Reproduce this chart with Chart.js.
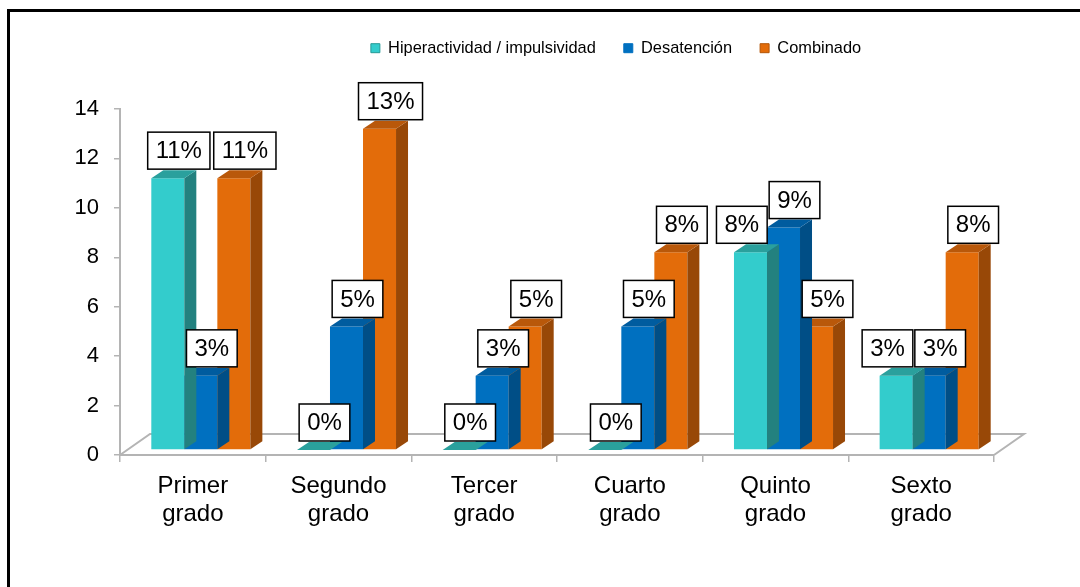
<!DOCTYPE html>
<html>
<head>
<meta charset="utf-8">
<style>
  html, body { margin: 0; padding: 0; background: #fff; overflow: hidden; }
  #wrap { position: relative; width: 1080px; height: 587px; overflow: hidden; background: #fff; }
  #frame { position: absolute; left: 7px; top: 9px; width: 2000px; height: 2000px;
           border-left: 3px solid #000; border-top: 3px solid #000; }
  #c { position: absolute; left: 0; top: 0; z-index: 1; }
</style>
<script src="https://cdn.jsdelivr.net/npm/chart.js@4"></script>
</head>
<body>
<div id="wrap">
  <div id="frame"></div>
  <canvas id="c" width="1080" height="587"></canvas>
</div>
<script>
// ---------------- data ----------------
const categories = [["Primer", "grado"], ["Segundo", "grado"], ["Tercer", "grado"],
                    ["Cuarto", "grado"], ["Quinto", "grado"], ["Sexto", "grado"]];
const seriesNames = ["Hiperactividad / impulsividad", "Desatención", "Combinado"];
const hiperactividad = [11, 0, 0, 0, 8, 3];
const desatencion    = [3, 5, 3, 5, 9, 3];
const combinado      = [11, 13, 5, 8, 5, 8];
const hiperactividadLabels = ["11%", "0%", "0%", "0%", "8%", "3%"];
const desatencionLabels    = ["3%", "5%", "3%", "5%", "9%", "3%"];
const combinadoLabels      = ["11%", "13%", "5%", "8%", "5%", "8%"];
const yTicks = [0, 2, 4, 6, 8, 10, 12, 14];

// ---------------- styles ----------------
const FONT = "'Liberation Sans', Arial, Helvetica, sans-serif";
const palette = [
  { front: '#33CCCC', side: '#23817f', top: '#2aa09d', edge: '#259996' },
  { front: '#0070C0', side: '#004e86', top: '#005c9f', edge: '#0070C0' },
  { front: '#E36C0A', side: '#984807', top: '#b9580a', edge: '#b35608' }
];
const AXIS_COLOR = '#b4b4b4';
const DX = 8, DY = -5;      // bar front plane offset from axis plane
const BDX = 12, BDY = -8;   // bar depth
const FDX = 30, FDY = -21;  // floor depth
const LEGEND_SHIFT = 119;

const seriesData = [hiperactividad, desatencion, combinado];
const seriesLabels = [hiperactividadLabels, desatencionLabels, combinadoLabels];

const threeD = {
  id: 'threeD',
  afterLayout(chart) {
    const L = chart.legend;
    if (L) { L.left += LEGEND_SHIFT; L.right += LEGEND_SHIFT; }
  },
  beforeDatasetsDraw(chart) {
    const ctx = chart.ctx, a = chart.chartArea;
    ctx.save();
    ctx.strokeStyle = AXIS_COLOR;
    ctx.lineWidth = 2;
    ctx.beginPath();
    ctx.moveTo(a.left, a.bottom);
    ctx.lineTo(a.left + FDX, a.bottom + FDY);
    ctx.lineTo(a.right + FDX, a.bottom + FDY);
    ctx.lineTo(a.right, a.bottom);
    ctx.stroke();
    ctx.restore();
  },
  beforeDatasetDraw(chart) {
    chart.ctx.save();
    chart.ctx.translate(DX, DY);
  },
  afterDatasetDraw(chart, args) {
    const ctx = chart.ctx;
    const pal = palette[args.index];
    args.meta.data.forEach(el => {
      const L = el.x - el.width / 2, R = el.x + el.width / 2, T = el.y, B = el.base;
      ctx.fillStyle = pal.side;
      ctx.beginPath();
      ctx.moveTo(R, T); ctx.lineTo(R + BDX, T + BDY);
      ctx.lineTo(R + BDX, B + BDY); ctx.lineTo(R, B);
      ctx.closePath(); ctx.fill();
      ctx.fillStyle = pal.top;
      ctx.beginPath();
      ctx.moveTo(L, T); ctx.lineTo(L + BDX, T + BDY);
      ctx.lineTo(R + BDX, T + BDY); ctx.lineTo(R, T);
      ctx.closePath(); ctx.fill();
    });
    ctx.restore();
  },
  afterDatasetsDraw(chart) {
    const ctx = chart.ctx;
    ctx.save();
    ctx.font = '24px ' + FONT;
    const n = chart.data.labels.length;
    for (let c = 0; c < n; c++) {
      const boxes = [];
      chart.data.datasets.forEach((ds, i) => {
        const el = chart.getDatasetMeta(i).data[c];
        const text = ds.pctLabels[c];
        const w = ctx.measureText(text).width + 16, h = 37;
        const cx = el.x + DX + 11, bottom = el.y + DY - 9;
        boxes.push({ x: cx - w / 2, y: bottom - h, w, h, text });
      });
      for (let i = boxes.length - 2; i >= 0; i--) {
        for (let j = i + 1; j < boxes.length; j++) {
          const a = boxes[i], b = boxes[j];
          const vo = a.y < b.y + b.h && b.y < a.y + a.h;
          const ho = a.x + a.w - b.x;
          if (vo && ho > 0 && a.x < b.x + b.w) a.x -= ho + 2;
        }
      }
      boxes.forEach(b => {
        ctx.fillStyle = '#fff';
        ctx.fillRect(b.x, b.y, b.w, b.h);
        ctx.strokeStyle = '#000';
        ctx.lineWidth = 1.5;
        ctx.strokeRect(b.x, b.y, b.w, b.h);
        ctx.fillStyle = '#000';
        ctx.textAlign = 'center';
        ctx.textBaseline = 'middle';
        ctx.fillText(b.text, b.x + b.w / 2, b.y + b.h / 2 + 1);
      });
    }
    ctx.restore();
  }
};

new Chart(document.getElementById('c'), {
  type: 'bar',
  data: {
    labels: categories,
    datasets: seriesData.map((d, i) => ({
      label: seriesNames[i],
      data: d,
      pctLabels: seriesLabels[i],
      backgroundColor: palette[i].front,
      borderWidth: 0,
      clip: false,
      categoryPercentage: 0.68,
      barPercentage: 1.0
    }))
  },
  options: {
    responsive: false,
    animation: false,
    devicePixelRatio: 1,
    events: [],
    layout: { padding: { top: 12, left: 0, right: 86, bottom: 0 } },
    plugins: {
      tooltip: { enabled: false },
      legend: {
        display: true,
        position: 'top',
        align: 'center',
        labels: {
          boxWidth: 9, boxHeight: 9, padding: 28, color: '#000',
          font: { family: FONT, size: 16.4 },
          generateLabels(chart) {
            const items = Chart.defaults.plugins.legend.labels.generateLabels(chart);
            items.forEach((it, i) => { it.lineWidth = 1; it.strokeStyle = palette[i].edge; });
            return items;
          }
        }
      },
      title: {
        display: true, text: ' ', weight: 500, position: 'top',
        font: { size: 12 }, padding: { top: 0, bottom: 28.2 }
      }
    },
    scales: {
      x: {
        grid: { display: true, drawOnChartArea: false, drawTicks: true, tickLength: 7, color: AXIS_COLOR, lineWidth: 1.5, offset: true },
        border: { display: true, color: AXIS_COLOR, width: 2 },
        ticks: { color: '#000', font: { family: FONT, size: 24, lineHeight: 1.15 }, padding: 11, maxRotation: 0, autoSkip: false },
        afterFit(s) { s.height = 132; }
      },
      y: {
        min: yTicks[0], max: yTicks[yTicks.length - 1],
        afterBuildTicks(s) { s.ticks = yTicks.map(v => ({ value: v })); },
        grid: { display: true, drawOnChartArea: false, drawTicks: true, tickLength: 6, color: AXIS_COLOR, lineWidth: 1.5 },
        border: { display: true, color: AXIS_COLOR, width: 2 },
        ticks: { color: '#000', font: { family: FONT, size: 22 }, padding: 15 },
        afterFit(s) { s.width = 120; }
      }
    }
  },
  plugins: [threeD]
});
</script>
</body>
</html>
